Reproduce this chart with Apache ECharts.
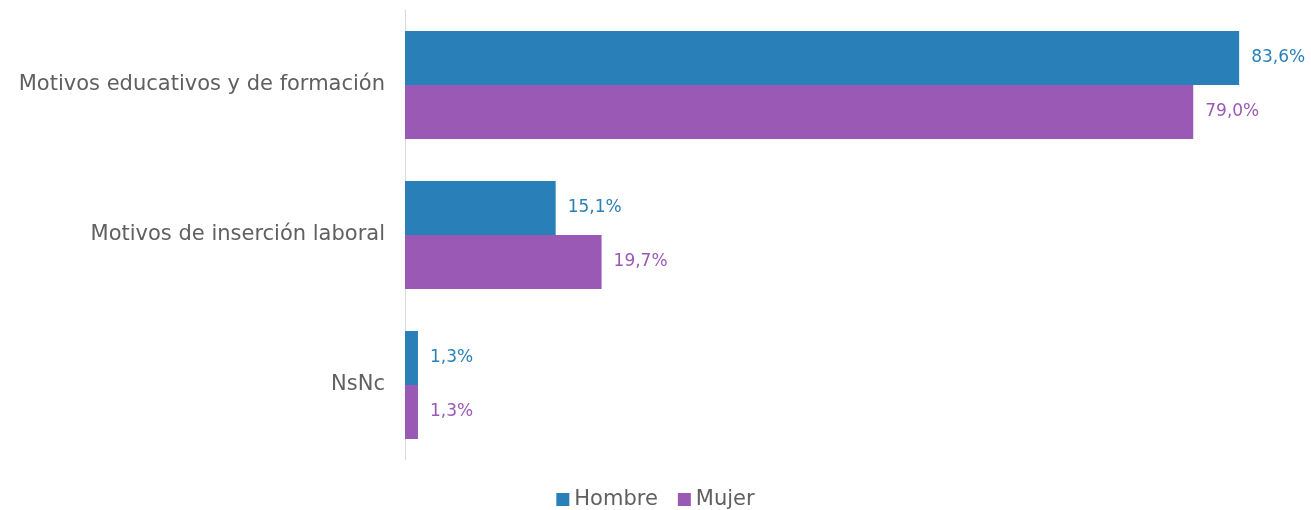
<!DOCTYPE html>
<html>

<head>
    <meta http-equiv="Content-Type" content="text/html; charset=utf-8" />
    <title>Motivos</title>
    <script src="https://cdn.jsdelivr.net/npm/echarts@6/dist/echarts.min.js"></script>
    <style>
        html, body { margin: 0; padding: 0; background: #fff; }
        #div1 { width: 1311px; height: 510px; }
    </style>
</head>

<body>

    <div id="div1"></div>
    <script type="text/javascript">
        var categories = ['Motivos educativos y de formación', 'Motivos de inserción laboral', 'NsNc'];
        var hombre = [83.6, 15.1, 1.3];
        var mujer = [79.0, 19.7, 1.3];
        var seriesNames = ['Hombre', 'Mujer'];

        var myChart = echarts.init(document.getElementById('div1'));
        var fontFam = '"DejaVu Sans", sans-serif';

        function fmt(p) {
            return p.value.toFixed(1).replace('.', ',') + '%';
        }

        var option = {
            textStyle: { fontFamily: fontFam },
            legend: {
                data: seriesNames,
                bottom: -5,
                left: 'center',
                itemWidth: 13,
                itemHeight: 13,
                itemGap: 20,
                icon: 'rect',
                textStyle: { fontSize: 21, color: '#606060', fontFamily: fontFam }
            },
            grid: { left: 405, right: 8, top: 10, bottom: 50, containLabel: false },
            xAxis: {
                type: 'value',
                min: 0,
                max: 90,
                show: false
            },
            yAxis: {
                type: 'category',
                data: categories,
                inverse: true,
                axisTick: { show: false },
                axisLine: { lineStyle: { color: '#d9d9d9', width: 1 } },
                axisLabel: { color: '#606060', fontSize: 21, margin: 20, fontFamily: fontFam }
            },
            series: [{
                name: seriesNames[0],
                type: 'bar',
                data: hombre,
                barGap: '0%',
                barCategoryGap: '28%',
                itemStyle: { color: '#2980B9' },
                label: { show: true, position: 'right', distance: 12, formatter: fmt, color: '#2980B9', fontSize: 17, fontFamily: fontFam }
            }, {
                name: seriesNames[1],
                type: 'bar',
                data: mujer,
                barGap: '0%',
                barCategoryGap: '28%',
                itemStyle: { color: '#9B59B6' },
                label: { show: true, position: 'right', distance: 12, formatter: fmt, color: '#9B59B6', fontSize: 17, fontFamily: fontFam }
            }]
        };
        myChart.setOption(option);
    </script>
</body>

</html>
